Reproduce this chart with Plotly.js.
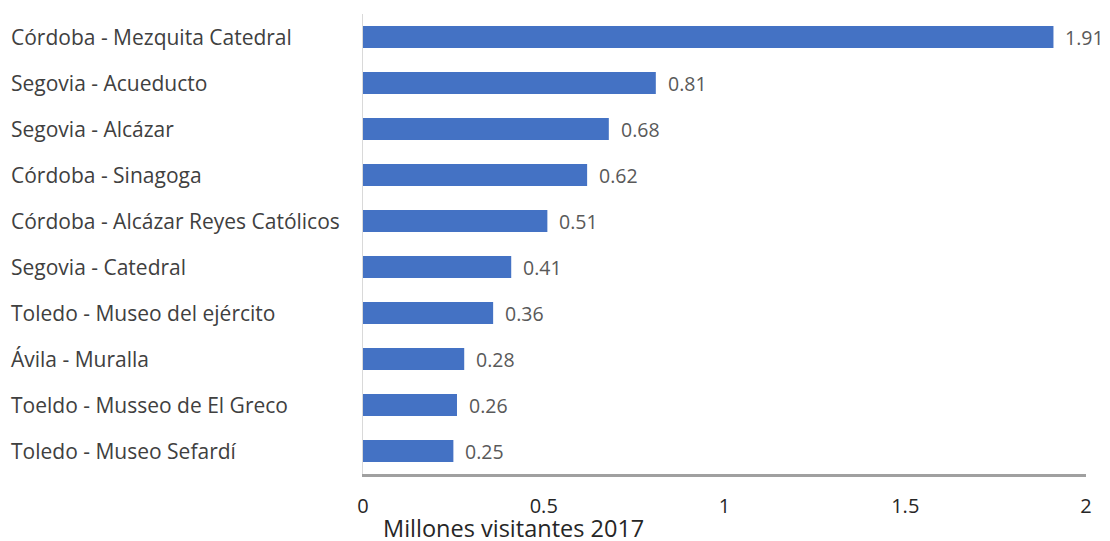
<!DOCTYPE html>
<html>
<head>
<meta charset="utf-8">
<script src="https://cdn.plot.ly/plotly-3.0.1.min.js"></script>
<style>html,body{margin:0;padding:0;background:#fff;}#chart{width:1110px;height:541px;}</style>
</head>
<body>
<div id="chart"></div>
<script>
const categories = [
  "Córdoba - Mezquita Catedral",
  "Segovia - Acueducto",
  "Segovia - Alcázar",
  "Córdoba - Sinagoga",
  "Córdoba - Alcázar Reyes Católicos",
  "Segovia - Catedral",
  "Toledo - Museo del ejército",
  "Ávila - Muralla",
  "Toeldo - Musseo de El Greco",
  "Toledo - Museo Sefardí"
];
const visitors = [1.91, 0.81, 0.68, 0.62, 0.51, 0.41, 0.36, 0.28, 0.26, 0.25];
const xTickVals = [0, 0.5, 1, 1.5, 2];
const xTickText = ["0", "0.5", "1", "1.5", "2"];
const xTitle = "Millones visitantes 2017";

const FONT = "Open Sans, Noto Sans, sans-serif";

const trace = {
  type: "bar",
  orientation: "h",
  x: visitors,
  y: categories,
  width: 0.48,
  marker: {color: "#4472C4"},
  hoverinfo: "x+y"
};

const annotations = [];
categories.forEach((c, i) => {
  annotations.push({
    xref: "paper", yref: "y", x: 0, y: c, xanchor: "left", yanchor: "middle",
    xshift: -354, text: c, showarrow: false,
    font: {family: FONT, size: 21, color: "#404040"}
  });
  annotations.push({
    xref: "x", yref: "y", x: visitors[i], y: c, xanchor: "left", yanchor: "middle",
    xshift: 10, text: visitors[i].toFixed(2), showarrow: false,
    font: {family: FONT, size: 19.5, color: "#595959"}
  });
});
annotations.push({
  xref: "paper", yref: "paper", x: 0, y: 0, xanchor: "left", yanchor: "middle",
  xshift: 19, yshift: -54, text: xTitle, showarrow: false, borderpad: 0,
  font: {family: FONT, size: 23.5, color: "#262626"}
});

const layout = {
  width: 1110, height: 541,
  margin: {l: 363, r: 24, t: 14, b: 67},
  paper_bgcolor: "#ffffff",
  plot_bgcolor: "#ffffff",
  showlegend: false,
  xaxis: {
    range: [0, 2],
    tickvals: xTickVals,
    ticktext: xTickText,
    showgrid: false,
    zeroline: false,
    showline: true,
    linecolor: "#a0a0a0",
    linewidth: 3,
    ticks: "",
    ticklabelstandoff: 12,
    tickfont: {family: FONT, size: 20, color: "#262626"},
    fixedrange: true
  },
  yaxis: {
    autorange: "reversed",
    showticklabels: false,
    showgrid: false,
    zeroline: false,
    showline: true,
    linecolor: "#d9d9d9",
    linewidth: 1,
    ticks: "",
    fixedrange: true
  },
  annotations: annotations
};

Plotly.newPlot("chart", [trace], layout, {displayModeBar: false, staticPlot: true});
</script>
</body>
</html>
